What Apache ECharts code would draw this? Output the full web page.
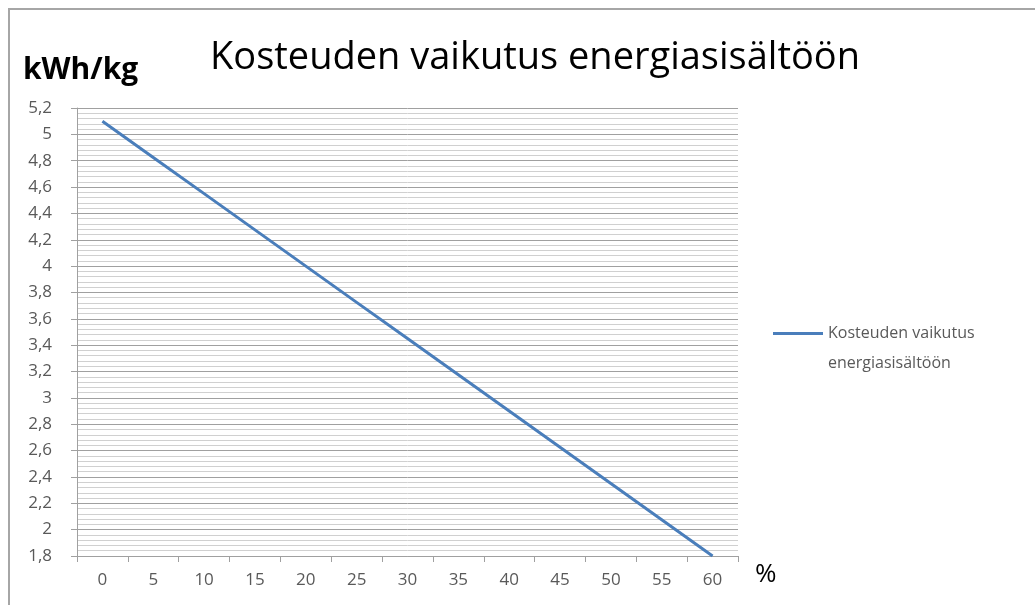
<!DOCTYPE html>
<html>
<head>
<meta charset="utf-8">
<script src="https://cdn.jsdelivr.net/npm/echarts@6/dist/echarts.min.js"></script>
<style>
html,body{margin:0;padding:0;background:#fff;}
#chart{width:1035px;height:605px;}
</style>
</head>
<body>
<div id="chart"></div>
<script>
const chartTitle = 'Kosteuden vaikutus energiasisältöön';
const seriesName = 'Kosteuden vaikutus energiasisältöön';
const legendLines = ['Kosteuden vaikutus', 'energiasisältöön'];
const yAxisTitle = 'kWh/kg';
const xAxisTitle = '%';
const categories = ['0','5','10','15','20','25','30','35','40','45','50','55','60'];
const values = [5.1, 4.825, 4.55, 4.275, 4.0, 3.725, 3.45, 3.175, 2.9, 2.625, 2.35, 2.075, 1.8];

const FONT = '"Open Sans", "Noto Sans", sans-serif';
const chart = echarts.init(document.getElementById('chart'));
chart.setOption({
  animation: false,
  backgroundColor: '#ffffff',
  title: {
    text: chartTitle,
    left: 530, top: 34, textAlign: 'center',
    textStyle: {fontFamily: FONT, fontSize: 38, fontWeight: 'normal', color: '#000'}
  },
  graphic: [
    {type: 'rect', shape: {x: 9, y: 9, width: 1040, height: 610},
     style: {fill: 'none', stroke: '#a6a6a6', lineWidth: 2}, silent: true},
    {type: 'text', left: 23, top: 55,
     style: {text: yAxisTitle, font: 'bold 30px ' + FONT, fill: '#000'}},
    {type: 'text', left: 755, top: 562,
     style: {text: xAxisTitle, font: '26px ' + FONT, fill: '#000'}}
  ],
  legend: {
    orient: 'vertical', left: 768, top: 313,
    itemWidth: 50, itemHeight: 44, itemGap: 0,
    icon: 'path://M0,0L0.01,0L0,0ZM0,6L50,6L50,9L0,9ZM0,44L0.01,44L0,44Z',
    formatter: function () { return legendLines.join('\n'); },
    textStyle: {fontFamily: FONT, fontSize: 16, color: '#595959', lineHeight: 30},
    data: [seriesName]
  },
  grid: {left: 77, right: 297, top: 108, bottom: 49},
  xAxis: {
    type: 'category', data: categories, boundaryGap: true,
    axisLine: {lineStyle: {color: '#a0a0a0', width: 1}},
    axisTick: {show: true, alignWithLabel: false, length: 6, lineStyle: {color: '#a0a0a0'}},
    axisLabel: {fontFamily: FONT, fontSize: 17, color: '#595959', margin: 16},
    splitLine: {show: false}
  },
  yAxis: {
    type: 'value', min: 1.8, max: 5.2, interval: 0.2,
    axisLine: {show: true, lineStyle: {color: '#a0a0a0', width: 1}},
    axisTick: {show: true, length: 6, lineStyle: {color: '#a0a0a0'}},
    axisLabel: {fontFamily: FONT, fontSize: 17, color: '#595959', margin: 25,
      formatter: function (v) { return String(Math.round(v * 10) / 10).replace('.', ','); }},
    splitLine: {show: true, lineStyle: {color: '#a0a0a0', width: 1}},
    minorTick: {show: false, splitNumber: 5},
    minorSplitLine: {show: true, lineStyle: {color: '#d0d0d0', width: 1}}
  },
  series: [{
    name: seriesName, type: 'line', data: values,
    showSymbol: false, symbol: 'none',
    lineStyle: {color: '#4a7ebb', width: 3},
    itemStyle: {color: '#4a7ebb'}
  }]
});
</script>
</body>
</html>
